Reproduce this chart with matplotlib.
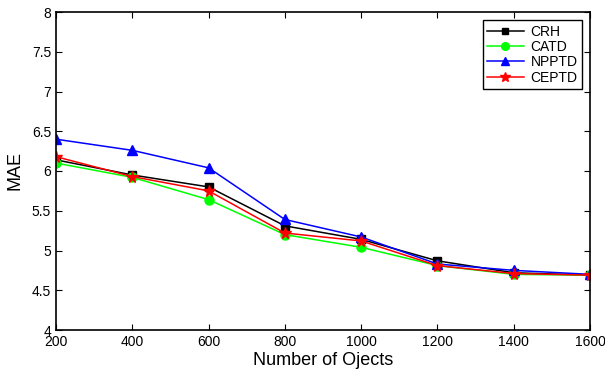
import matplotlib
matplotlib.use('Agg')
import matplotlib.pyplot as plt

plt.rcParams['font.family'] = ['Liberation Sans', 'DejaVu Sans']

objects = [200, 400, 600, 800, 1000, 1200, 1400, 1600]
crh = [6.14, 5.95, 5.80, 5.31, 5.14, 4.87, 4.72, 4.69]
catd = [6.10, 5.92, 5.64, 5.20, 5.04, 4.81, 4.70, 4.69]
npptd = [6.40, 6.26, 6.04, 5.39, 5.17, 4.83, 4.75, 4.70]
ceptd = [6.18, 5.93, 5.75, 5.22, 5.12, 4.81, 4.71, 4.69]

fig = plt.figure(figsize=(6.05, 3.73), dpi=100)
ax = fig.add_axes([56/605, 1-330/373, 534/605, 318/373])

ax.plot(objects, crh, color='black', marker='s', ms=5.5, lw=1.1, label='CRH')
ax.plot(objects, catd, color='#00ff00', marker='o', ms=6.5, lw=1.1, label='CATD')
ax.plot(objects, npptd, color='blue', marker='^', ms=7, lw=1.1, label='NPPTD')
ax.plot(objects, ceptd, color='red', marker='*', ms=8.5, lw=1.1, label='CEPTD')

ax.set_xlim(200, 1600)
ax.set_ylim(4, 8)
ax.set_xticks(objects)
ax.set_yticks([4, 4.5, 5, 5.5, 6, 6.5, 7, 7.5, 8])
ax.set_yticklabels(['4', '4.5', '5', '5.5', '6', '6.5', '7', '7.5', '8'])
ax.tick_params(direction='in', top=True, right=True, labelsize=10, length=4)
for s in ax.spines.values():
    s.set_linewidth(1.2)

ax.set_xlabel('Number of Ojects', fontsize=13, labelpad=2)
ax.set_ylabel('MAE', fontsize=13, labelpad=6)

leg = ax.legend(loc='upper right', fontsize=10, fancybox=False, edgecolor='black',
                framealpha=1, borderaxespad=0.6, handlelength=2.6, labelspacing=0.1,
                borderpad=0.3, handletextpad=0.5, markerscale=0.85)
leg.get_frame().set_linewidth(1)

fig.savefig('out.png', dpi=100)
